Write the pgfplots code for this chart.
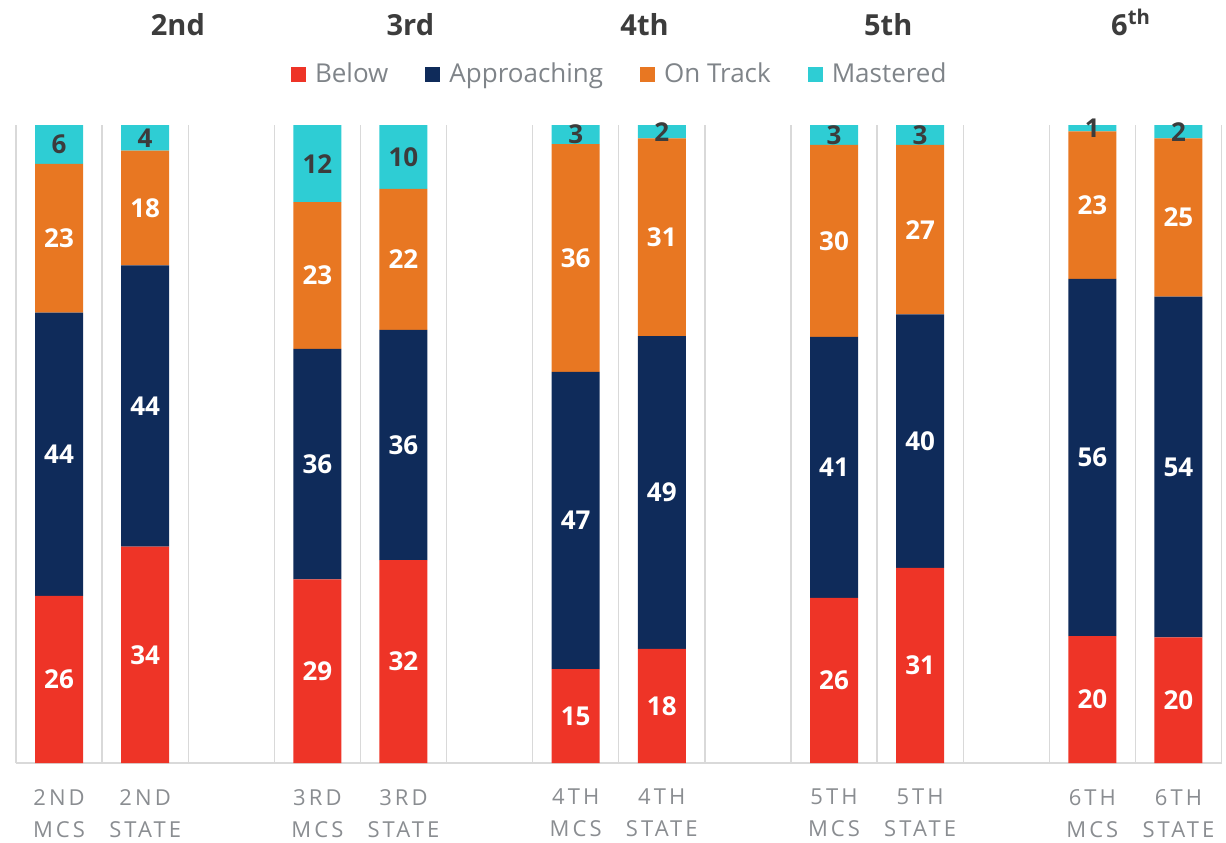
\documentclass[border=0pt]{standalone}
\usepackage{fontspec}
\setmainfont{Open Sans}
\newfontfamily\tickfont[LetterSpace=14]{Open Sans}
\usepackage{pgfplots}
\pgfplotsset{compat=1.18}
\usepackage{pgfplotstable}

\definecolor{belowc}{HTML}{EE3427}
\definecolor{apprc}{HTML}{0F2B5A}
\definecolor{trackc}{HTML}{E87722}
\definecolor{mastc}{HTML}{2ECDD4}
\definecolor{tickgray}{HTML}{8A8D91}
\definecolor{leggray}{HTML}{7F8489}
\definecolor{titlegray}{HTML}{3C3C3C}
\definecolor{gridgray}{HTML}{D9D9D9}

% segment values and the printed labels
\pgfplotstableread{
x  below appr track mast lb la lt lm
0  26.2  44.4 23.3  6.1  26 44 23 6
1  33.9  44.1 18.0  4.0  34 44 18 4
3  28.8  36.1 23.0  12.1 29 36 23 12
4  31.8  36.1 22.1  10.0 32 36 22 10
6  14.7  46.6 35.7  3.0  15 47 36 3
7  17.9  49.0 31.0  2.1  18 49 31 2
9  25.9  40.9 30.1  3.1  26 41 30 3
10 30.6  39.7 26.6  3.1  31 40 27 3
12 19.9  56.0 23.1  1.0  20 56 23 1
13 19.7  53.4 24.8  2.1  20 54 25 2
}\data

\pgfplotsset{
  common/.style={
    scale only axis, width=602.75pt, height=319pt,
    xmin=-0.5, xmax=13.5, ymin=0, ymax=100,
    enlargelimits=false, clip=false,
  },
  lab/.style={
    draw=none, mark=none, nodes near coords, point meta=explicit symbolic,
    every node near coord/.append style={anchor=center, inner sep=0pt,
      font=\fontsize{13}{13}\selectfont\bfseries, text=#1},
  },
}

\begin{document}
\begin{tikzpicture}
\begin{axis}[
  common, name=main,
  ybar stacked, bar width=24pt,
  axis x line*=bottom, axis y line=none,
  x axis line style={draw=gridgray, line width=0.7pt, -},
  ytick=\empty,
  xtick={0,1,3,4,6,7,9,10,12,13},
  xticklabels={{2ND\\MCS},{2ND\\STATE},{3RD\\MCS},{3RD\\STATE},{4TH\\MCS},{4TH\\STATE},{5TH\\MCS},{5TH\\STATE},{6TH\\MCS},{6TH\\STATE}},
  xticklabel style={align=center, text=tickgray, font=\tickfont\fontsize{11}{16}\selectfont, yshift=-9.5pt},
  major tick length=0pt, minor tick length=0pt,
  minor xtick={-0.5,0.5,...,13.5},
  xminorgrids, minor grid style={draw=gridgray, line width=0.65pt},
  legend columns=4,
  legend style={at={(0.5,1)}, anchor=center, yshift=25.5pt, draw=none, fill=none,
    font=\fontsize{13}{14}\selectfont, text=leggray,
    nodes={inner sep=0pt},
    /tikz/every odd column/.append style={column sep=4.5pt},
    /tikz/every even column/.append style={column sep=18.5pt}},
  legend image code/.code={\fill[#1] (0pt,-3.75pt) rectangle (7.5pt,3.75pt);},
]
\addplot[fill=belowc, draw=none] table[x=x, y=below] {\data};
\addplot[fill=apprc, draw=none] table[x=x, y=appr] {\data};
\addplot[fill=trackc, draw=none] table[x=x, y=track] {\data};
\addplot[fill=mastc, draw=none] table[x=x, y=mast] {\data};
\legend{Below, Approaching, On Track, Mastered}
\end{axis}

\begin{axis}[common, hide axis]
\addplot[lab=white] table[x=x, y expr=\thisrow{below}/2, meta=lb] {\data};
\addplot[lab=white] table[x=x, y expr=\thisrow{below}+\thisrow{appr}/2, meta=la] {\data};
\addplot[lab=white] table[x=x, y expr=\thisrow{below}+\thisrow{appr}+\thisrow{track}/2, meta=lt] {\data};
\addplot[lab=titlegray] table[x=x, y expr=\thisrow{below}+\thisrow{appr}+\thisrow{track}+\thisrow{mast}/2, meta=lm] {\data};
\begin{scope}[every node/.style={anchor=base, text=titlegray, font=\fontsize{14.5}{15}\selectfont\bfseries}]
\node at (axis cs:1.38,114.1) {2nd};
\node at (axis cs:4.08,114.1) {3rd};
\node at (axis cs:6.80,114.1) {4th};
\node at (axis cs:9.63,114.1) {5th};
\node at (axis cs:12.45,114.1) {6\textsuperscript{th}};
\end{scope}
\end{axis}

\pgfresetboundingbox
\path[use as bounding box] ([xshift=-8pt,yshift=-39.5pt]main.south west) rectangle ([xshift=2.25pt,yshift=62.5pt]main.north east);
\end{tikzpicture}
\end{document}
